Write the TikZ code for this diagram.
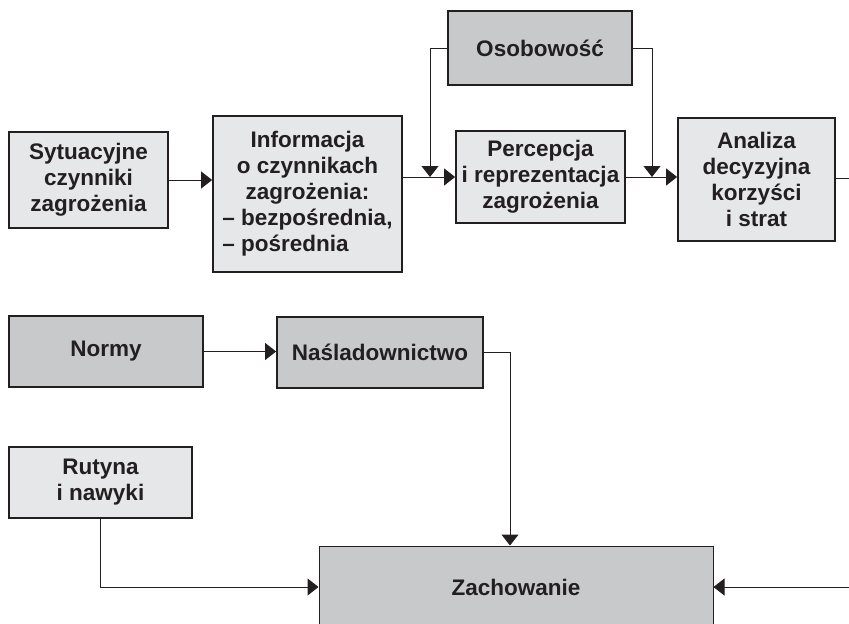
\documentclass[tikz,border=0pt]{standalone}
\usepackage{fontspec}
\setmainfont{Liberation Sans}
\usetikzlibrary{arrows.meta}
\definecolor{boxlight}{RGB}{230,231,232}
\definecolor{boxdark}{RGB}{200,201,203}
\definecolor{ink}{RGB}{35,31,32}
\begin{document}
\begin{tikzpicture}[x=1pt,y=-1pt,
  box/.style={draw=ink,line width=1.8pt,inner sep=0pt,align=center,text=ink,
    font=\fontsize{22.5}{26}\selectfont\bfseries},
  lightbox/.style={box,fill=boxlight},
  darkbox/.style={box,fill=boxdark},
  conn/.style={draw=ink,line width=1pt},
  arr/.style={conn,-{Triangle[length=11pt,width=17pt]}}]
\useasboundingbox (0,0) rectangle (849,624);
\clip (0,0) rectangle (849,624);

% upper chain
\node[lightbox,minimum width=159pt,minimum height=96pt] (syt) at (88.5,180)
  {Sytuacyjne\\czynniki\\zagrożenia};
\node[lightbox,minimum width=189pt,minimum height=156pt] (info) at (307.5,194)
  {Informacja\\o czynnikach\\zagrożenia:\\– bezpośrednia,\\\rlap{– pośrednia}\phantom{– bezpośrednia,}};
\node[darkbox,minimum width=184pt,minimum height=74pt] (osob) at (540,48) {Osobowość};
\node[lightbox,minimum width=169pt,minimum height=92pt] (perc) at (540.5,177)
  {Percepcja\\i reprezentacja\\zagrożenia};
\node[lightbox,minimum width=157pt,minimum height=123pt] (anal) at (756.5,179.5)
  {Analiza\\decyzyjna\\korzyści\\i strat};

% lower part
\node[darkbox,minimum width=194pt,minimum height=71pt] (normy) at (106,351.5) {Normy};
\node[darkbox,minimum width=206pt,minimum height=71pt] (nasl) at (380,352.5) {Naśladownictwo};
\node[lightbox,minimum width=183pt,minimum height=71pt] (rut) at (100.5,482.5)
  {Rutyna\\i nawyki};
\node[darkbox,line width=1pt,minimum width=394pt,minimum height=82pt] (zach) at (516,587)
  {Zachowanie};

% junctions and loose ends
\coordinate (j1) at (430,177);
\coordinate (j2) at (652,177);
\coordinate (out1) at (849,178);
\coordinate (in1) at (849,587);

% connectors
\draw[arr] (syt.east) -- (syt.east -| info.west);
\draw[arr] (perc.west -| info.east) -- (perc.west);
\draw[arr] (osob.west) -| (j1);
\draw[arr] (osob.east) -| (j2);
\draw[arr] (perc.east) -- (perc.east -| anal.west);
\draw[conn] (anal.east |- out1) -- (out1);
\draw[arr] (normy.east) -- (normy.east -| nasl.west);
\draw[arr] (nasl.east) -| ([xshift=-6pt]zach.north);
\draw[arr] (rut.south) |- (zach.west);
\draw[arr] (in1) -- (zach.east);
\end{tikzpicture}
\end{document}
